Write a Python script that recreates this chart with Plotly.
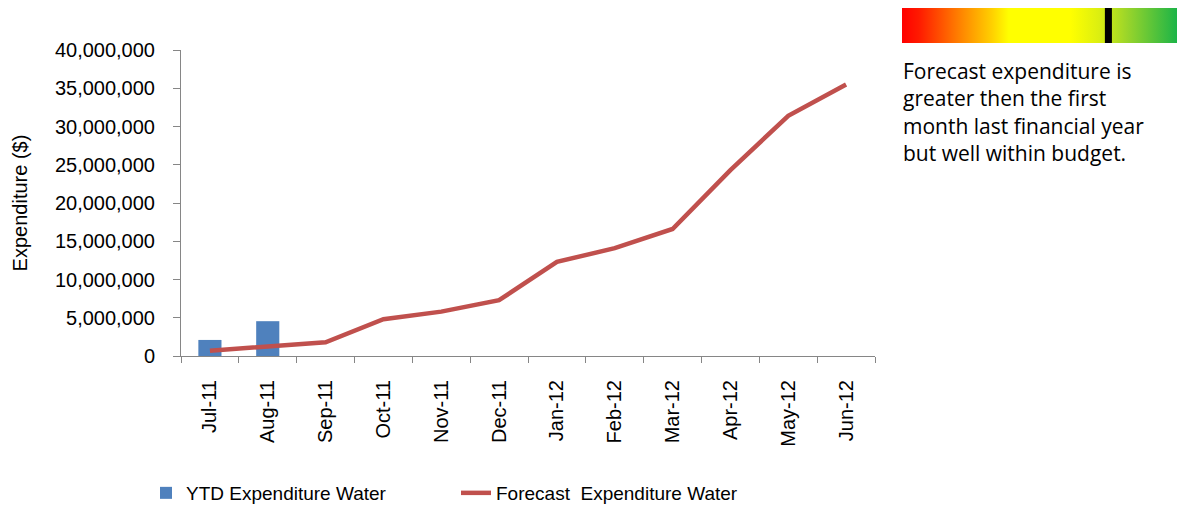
import plotly.graph_objects as go

## ------ Data
meses = ['Jul-11', 'Aug-11', 'Sep-11', 'Oct-11', 'Nov-11', 'Dec-11',
         'Jan-12', 'Feb-12', 'Mar-12', 'Apr-12', 'May-12', 'Jun-12']
ytd_water = [2100000, 4550000, None, None, None, None,
             None, None, None, None, None, None]
forecast_water = [700000, 1200000, 1800000, 4800000, 5800000, 7300000,
                  12300000, 14100000, 16600000, 24300000, 31400000, 35500000]

nota = ('Forecast expenditure is<br>greater then the first<br>'
        'month last financial year<br>but well within budget.')

## ------ Layout helpers (pixels, la pagina tiene margen de 8px)
OFF = 8
W, H = 1185 - OFF, 506 - OFF
ML, MR, MT, MB = 181 - OFF, 2, 0, 150
pw, ph = W - ML - MR, H - MT - MB
bottom = 356 - OFF


def px_x(x):
    return (x - OFF - ML) / pw


def px_y(y):
    return (bottom - (y - OFF)) / ph


main_xdom = [0, px_x(875)]
main_ydom = [0, px_y(50)]
grad_xdom = [px_x(902), 1.0]
grad_ydom = [px_y(43), 1.0]

font_txt = 'Liberation Sans, Arial, sans-serif'

fig = go.Figure()

fig.add_trace(go.Bar(x=meses, y=ytd_water, name='YTD Expenditure Water',
                     marker=dict(color='#4F81BD', line=dict(width=0)), width=0.4))
fig.add_trace(go.Scatter(x=meses, y=forecast_water, mode='lines',
                         name='Forecast\u00a0 Expenditure Water',
                         line=dict(color='#C0504D', width=4.5)))

# barra de semaforo
fig.add_trace(go.Scatter(x=[0, 1, 1, 0, 0], y=[0, 0, 1, 1, 0], xaxis='x2', yaxis='y2',
                         mode='lines', line=dict(width=0), fill='toself',
                         fillgradient=dict(type='horizontal', colorscale=[
                             [0, '#ff0000'], [0.06, '#ff1a00'], [0.22, '#ff8c00'],
                             [0.32, '#ffd000'], [0.38, '#ffff00'], [0.6, '#ffff00'],
                             [0.7, '#dcef10'], [0.8, '#9bd52a'], [1, '#0db04b']]),
                         showlegend=False, hoverinfo='skip'))

fig.add_shape(type='rect', xref='x2', yref='y2', x0=0.722, x1=0.747, y0=0, y1=1,
              fillcolor='black', line=dict(width=0))

fig.add_annotation(text=nota, xref='paper', yref='paper', x=px_x(901),
                   y=px_y(55), xanchor='left', yanchor='top', align='left',
                   showarrow=False, font=dict(family='Open Sans, sans-serif', size=21, color='black'))

fig.update_layout(
    width=W, height=H, margin=dict(l=ML, r=MR, t=MT, b=MB, autoexpand=False),
    paper_bgcolor='white', plot_bgcolor='white',
    font=dict(family=font_txt, size=20, color='black'),
    xaxis=dict(domain=main_xdom, showline=True, linecolor='#868686', linewidth=1,
               ticks='outside', tickson='boundaries', ticklen=6, tickcolor='#868686',
               tickangle=-90, ticklabelstandoff=15, showgrid=False, automargin=False,
               tickfont=dict(size=20)),
    yaxis=dict(domain=main_ydom, range=[0, 40000000], dtick=5000000, tickformat=',d',
               showline=True, linecolor='#868686', linewidth=1, ticks='outside',
               ticklen=7, tickcolor='#868686', showgrid=False, zeroline=False,
               ticklabelstandoff=14, tickfont=dict(size=20), automargin=False,
               title=dict(text='Expenditure ($)', standoff=21, font=dict(size=20))),
    xaxis2=dict(domain=grad_xdom, range=[0, 1], visible=False, fixedrange=True,
                anchor='y2'),
    yaxis2=dict(domain=grad_ydom, range=[0, 1], visible=False, fixedrange=True,
                anchor='x2'),
    legend=dict(orientation='h', x=px_x(146), y=px_y(493),
                xanchor='left', yanchor='middle', font=dict(size=19),
                entrywidth=265, traceorder='normal'),
    showlegend=True,
)

fig.write_html('out.html')
